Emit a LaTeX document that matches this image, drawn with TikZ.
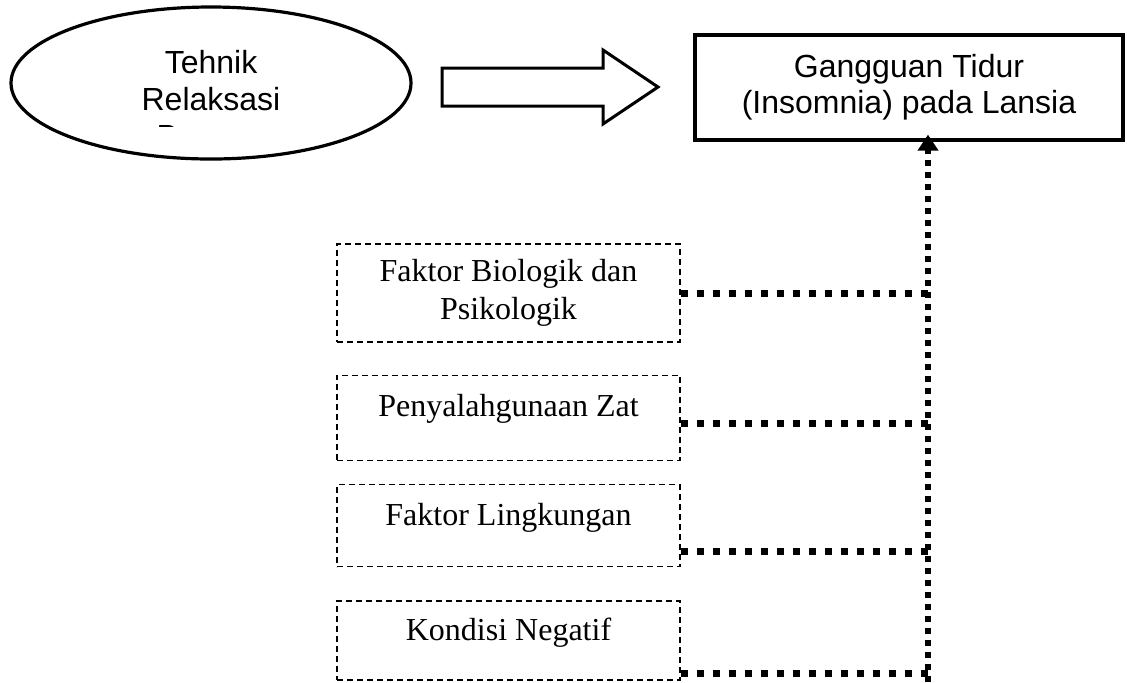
\documentclass[tikz,border=0pt]{standalone}
\usepackage{fontspec}
\setmainfont{Liberation Serif}
\setsansfont{Liberation Sans}
\usepackage{tikz}
\usetikzlibrary{positioning,shapes.geometric,arrows.meta}

\begin{document}
\begin{tikzpicture}[
    x=0.5pt, y=-0.5pt,
    node distance=16pt,
    treat/.style={draw, ellipse, line width=1.6pt, minimum width=200pt, minimum height=76pt},
    outcome/.style={draw, line width=1.6pt, minimum width=214pt, minimum height=52.5pt, align=center, font=\sffamily\fontsize{16}{18}\selectfont},
    factor/.style={draw, dash pattern=on 3pt off 2pt, line width=0.65pt, minimum width=171.5pt, inner ysep=0pt, font=\fontsize{16}{19}\selectfont},
    dotlink/.style={line width=3.5pt, dash pattern=on 3.5pt off 4.5pt},
    dotspine/.style={line width=3pt, dash pattern=on 3pt off 3pt}
  ]
    \useasboundingbox (0,0) rectangle (1127,682);

    \node[treat] (tr) at (211,83) {};
    \begin{scope}
      \clip (0,0) rectangle (1127,126);
      \node[align=center, font=\sffamily\fontsize{16}{18.5}\selectfont] (trtext) at (211,99) {Tehnik\\Relaksasi\\Benson};
    \end{scope}
    \draw[line width=1.5pt] (442,68) -- (603,68) -- (603,50) -- (658,87) -- (603,124) -- (603,106) -- (442,106) -- cycle;
    \node[outcome] (gg) at (909,87.5) {Gangguan Tidur\\(Insomnia) pada Lansia};

    \node[factor, align=center, minimum height=49pt] (fb) at (508.5,293) {Faktor Biologik dan\\Psikologik};
    \node[factor, text height=20.5pt, text depth=22pt, below=16pt of fb] (fz) {Penyalahgunaan Zat};
    \node[factor, text height=20.5pt, text depth=20.5pt, below=11.5pt of fz] (fl) {Faktor Lingkungan};
    \node[factor, text height=20pt, text depth=19.5pt, below=16.5pt of fl] (fk) {Kondisi Negatif};

    \coordinate (base) at (928,682);
    \draw[dotspine, -{Triangle[length=8pt,width=10pt]}] (base) -- ([yshift=3.5pt]gg.south -| base);
    \draw[dotlink] (fb.east) -- (fb.east -| base);
    \draw[dotlink] ([yshift=-2.75pt]fz.east) -- ([yshift=-2.75pt]fz.east -| base);
    \draw[dotlink] ([yshift=-13pt]fl.east) -- ([yshift=-13pt]fl.east -| base);
    \draw[dotlink] ([yshift=-16.75pt]fk.east) -- ([yshift=-16.75pt]fk.east -| base);
  \end{tikzpicture}
\end{document}
